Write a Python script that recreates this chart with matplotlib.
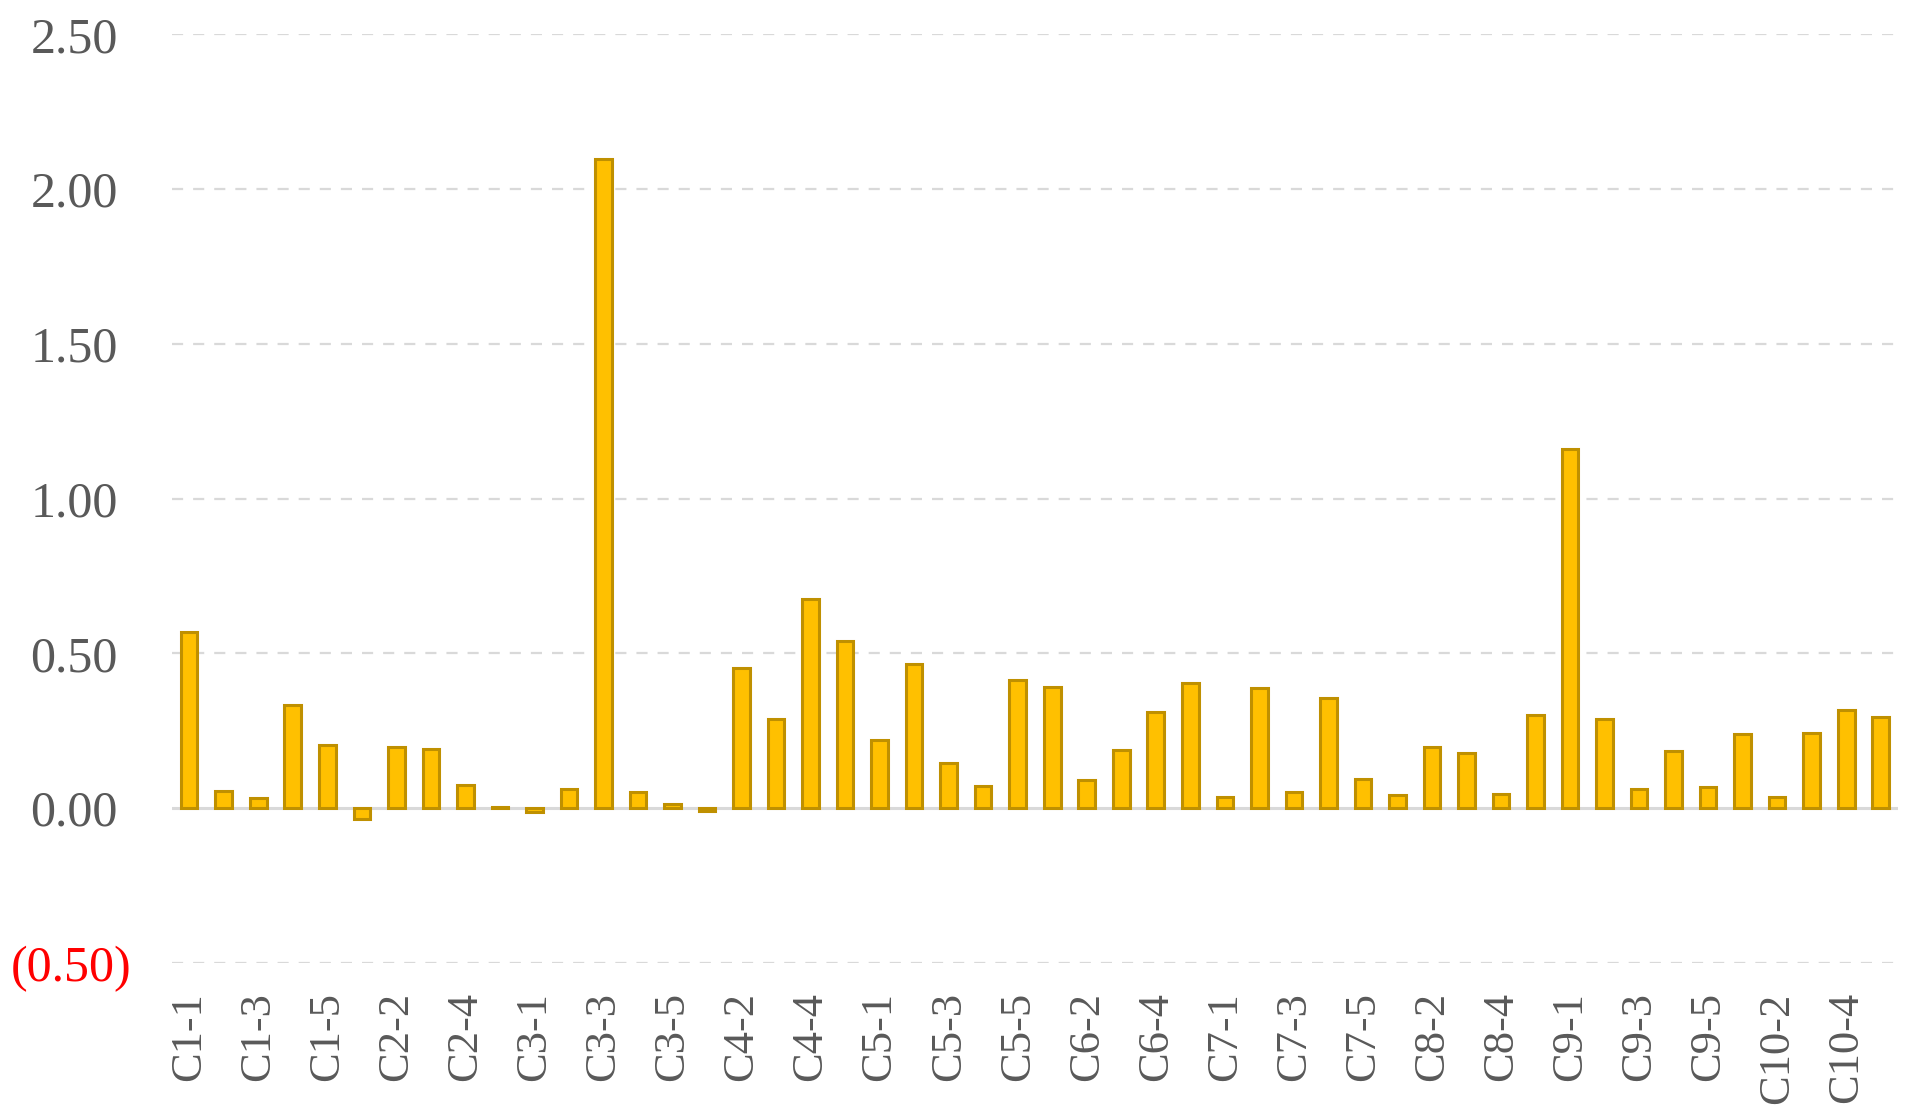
import matplotlib.pyplot as plt
from matplotlib.ticker import FuncFormatter
from matplotlib.transforms import ScaledTranslation

# --- data ---
groups = [f'C{i}' for i in range(1, 11)]
categories = [f'{g}-{j}' for g in groups for j in range(1, 6)]
values = [
    0.568, 0.056, 0.032, 0.334, 0.204,
    -0.036, 0.198, 0.191, 0.075, 0.003,
    -0.013, 0.062, 2.097, 0.052, 0.015,
    -0.008, 0.453, 0.288, 0.677, 0.541,
    0.221, 0.466, 0.146, 0.072, 0.415,
    0.392, 0.091, 0.188, 0.311, 0.404,
    0.036, 0.388, 0.052, 0.356, 0.095,
    0.043, 0.198, 0.179, 0.045, 0.302,
    1.160, 0.288, 0.062, 0.185, 0.068,
    0.240, 0.036, 0.243, 0.318, 0.295,
]
y_ticks = [-0.5, 0.0, 0.5, 1.0, 1.5, 2.0, 2.5]

plt.rcParams['font.family'] = ['Liberation Serif', 'DejaVu Serif']

fig = plt.figure(figsize=(19.23, 11.12), dpi=100)
ax = fig.add_axes([0.0894, 0.134, 0.8976, 0.835])

x = list(range(len(categories)))
ax.bar(x, values, width=0.48, color='#FFC000', edgecolor='#BF9000',
       linewidth=2.2, zorder=3)

# --- axes styling ---
ax.set_xlim(-0.5, len(categories) - 0.5)
ax.set_ylim(-0.5, 2.5)
ax.set_yticks(y_ticks)
ax.yaxis.set_major_formatter(FuncFormatter(
    lambda v, p: f'({abs(v):.2f})' if v < 0 else f'{v:.2f}'))

for y in y_ticks:
    if y == 0:
        ax.axhline(y, color='#D9D9D9', linewidth=2.2, zorder=2)
    else:
        ax.axhline(y, color='#D9D9D9', linewidth=1.6,
                   linestyle=(0, (5, 4.5)), zorder=1)

ax.set_xticks(x[::2])
ax.set_xticklabels(categories[::2], rotation=90)

ax.tick_params(axis='both', length=0, colors='#595959')
ax.tick_params(axis='x', pad=21, labelsize=32)
ax.tick_params(axis='y', pad=29, labelsize=36)

# accounting-style labels: negatives in red parentheses,
# positives leave room for the closing bracket
shift = ScaledTranslation(-10 / 72, 0, fig.dpi_scale_trans)
for lbl in ax.get_yticklabels():
    if lbl.get_text().startswith('('):
        lbl.set_color('red')
    else:
        lbl.set_transform(lbl.get_transform() + shift)

for s in ax.spines.values():
    s.set_visible(False)

plt.savefig('out.png', dpi=100)
plt.close()
